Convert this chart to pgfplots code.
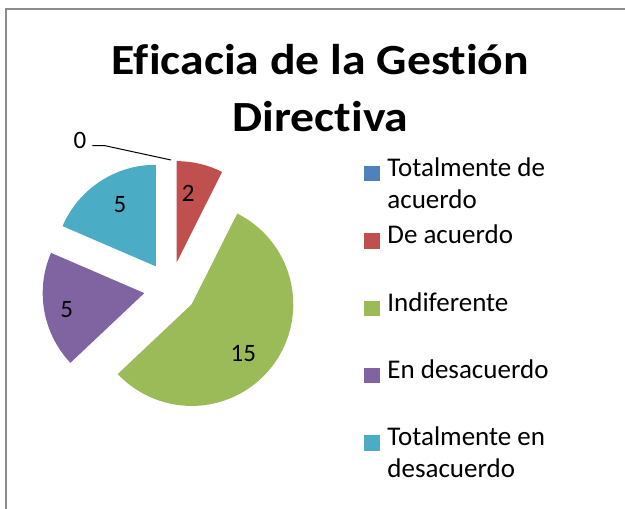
\documentclass[border=0pt]{standalone}
\usepackage{pgfplots}
\pgfplotsset{compat=1.18}
\usepackage{pgfplotstable}
\usepackage{fontspec}
\setmainfont{Carlito}[Ligatures=NoCommon]
\newfontfamily\titlefont{Carlito}[Ligatures=NoCommon, FakeStretch=1.11]
\definecolor{pieA}{HTML}{4F81BD}
\definecolor{pieB}{HTML}{C0504D}
\definecolor{pieC}{HTML}{9BBB59}
\definecolor{pieD}{HTML}{8064A2}
\definecolor{pieE}{HTML}{4BACC6}
\definecolor{frame}{HTML}{8C8C8C}
\newcommand\lstrut{\rule[-13.1pt]{0pt}{35pt}}
\pgfplotstableread{
label value
TA 0
DA 2
IN 15
ED 5
TD 5
}\datatable
\begin{document}
\begin{tikzpicture}
\pgfplotstablegetelem{0}{value}\of\datatable \let\vA\pgfplotsretval
\pgfplotstablegetelem{1}{value}\of\datatable \let\vB\pgfplotsretval
\pgfplotstablegetelem{2}{value}\of\datatable \let\vC\pgfplotsretval
\pgfplotstablegetelem{3}{value}\of\datatable \let\vD\pgfplotsretval
\pgfplotstablegetelem{4}{value}\of\datatable \let\vE\pgfplotsretval
\pgfmathsetmacro\tot{\vA+\vB+\vC+\vD+\vE}
\pgfmathsetmacro\aA{90}
\pgfmathsetmacro\aB{\aA-360*\vA/\tot}
\pgfmathsetmacro\aC{\aB-360*\vB/\tot}
\pgfmathsetmacro\aD{\aC-360*\vC/\tot}
\pgfmathsetmacro\aE{\aD-360*\vD/\tot}
\pgfmathsetmacro\aF{\aE-360*\vE/\tot}
\def\cx{170.4}\def\cy{220.5}\def\dd{26.5}\def\rr{101.6}
\begin{axis}[
  width=625pt, height=509pt, scale only axis,
  xmin=0, xmax=625, ymin=0, ymax=509,
  hide axis, clip=false,
  legend style={at={(axis cs:364,357)}, anchor=north west, draw=none, fill=none,
    inner sep=0pt, outer sep=0pt, row sep=7.5pt, column sep=6pt,
    font=\fontsize{27}{32}\selectfont,
    cells={anchor=west, align=left, inner sep=0pt}},
  legend cell align=left,
]
\coordinate (LL) at (axis cs:0,0);
\coordinate (UR) at (axis cs:625,509);
% frame
\draw[frame, line width=2pt] (axis cs:5.7,-2) -- (axis cs:5.7,499.6) -- (axis cs:627,499.6);
% slices
\fill[pieB] (axis cs:{\cx+\dd*cos((\aB+\aC)/2)},{\cy+\dd*sin((\aB+\aC)/2)}) -- ++(\aB:\rr pt) arc[start angle=\aB, end angle=\aC, radius=\rr pt] -- cycle;
\fill[pieC] (axis cs:{\cx+\dd*cos((\aC+\aD)/2)},{\cy+\dd*sin((\aC+\aD)/2)}) -- ++(\aC:\rr pt) arc[start angle=\aC, end angle=\aD, radius=\rr pt] -- cycle;
\fill[pieD] (axis cs:{\cx+\dd*cos((\aD+\aE)/2)},{\cy+\dd*sin((\aD+\aE)/2)}) -- ++(\aD:\rr pt) arc[start angle=\aD, end angle=\aE, radius=\rr pt] -- cycle;
\fill[pieE] (axis cs:{\cx+\dd*cos((\aE+\aF)/2)},{\cy+\dd*sin((\aE+\aF)/2)}) -- ++(\aE:\rr pt) arc[start angle=\aE, end angle=\aF, radius=\rr pt] -- cycle;
% data labels
\node[font=\fontsize{25}{30}\selectfont] at (axis cs:188.3,315.7) {\vB};
\node[font=\fontsize{25}{30}\selectfont] at (axis cs:120,304) {\vE};
\node[font=\fontsize{25}{30}\selectfont] at (axis cs:66.7,199.7) {\vD};
\node[font=\fontsize{25}{30}\selectfont] at (axis cs:243.3,155.7) {\vC};
\node[font=\fontsize{25}{30}\selectfont] at (axis cs:80,369) {\vA};
\draw[black, line width=1pt] (axis cs:92.3,363.3) -- (axis cs:105,363.3) -- (axis cs:171,349);
% title
\node[font=\titlefont\fontsize{43}{52}\selectfont\bfseries, anchor=base] at (axis cs:320.5,434) {Eficacia de la Gestión};
\node[font=\titlefont\fontsize{43}{52}\selectfont\bfseries, anchor=base] at (axis cs:320.5,377.3) {Directiva};
% legend
\addlegendimage{legend image code/.code={\fill[pieA] (0pt,1.5pt) rectangle (15pt,16pt);}}
\addlegendentry{\strut Totalmente de\\\lstrut acuerdo}
\addlegendimage{legend image code/.code={\fill[pieB] (0pt,1.5pt) rectangle (15pt,16pt);}}
\addlegendentry{\strut De acuerdo\\\lstrut}
\addlegendimage{legend image code/.code={\fill[pieC] (0pt,1.5pt) rectangle (15pt,16pt);}}
\addlegendentry{\strut Indiferente\\\lstrut}
\addlegendimage{legend image code/.code={\fill[pieD] (0pt,1.5pt) rectangle (15pt,16pt);}}
\addlegendentry{\strut En desacuerdo\\\lstrut}
\addlegendimage{legend image code/.code={\fill[pieE] (0pt,1.5pt) rectangle (15pt,16pt);}}
\addlegendentry{\strut Totalmente en\\\lstrut desacuerdo}
\end{axis}
\pgfresetboundingbox
\useasboundingbox (LL) rectangle (UR);
\end{tikzpicture}
\end{document}
